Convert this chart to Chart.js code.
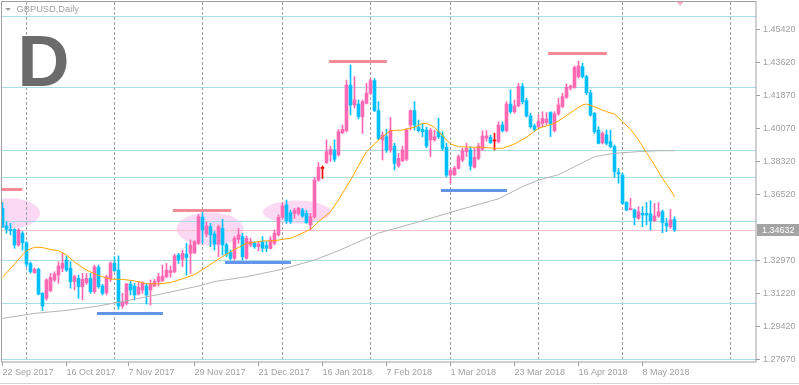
<!DOCTYPE html>
<html>
<head>
<meta charset="utf-8">
<title>GBPUSD,Daily</title>
<script src="https://cdn.jsdelivr.net/npm/chart.js@4.4.1/dist/chart.umd.min.js"></script>
<style>
  html, body { margin: 0; padding: 0; background: #fff; }
  #wrap { width: 799px; height: 385px; }
</style>
</head>
<body>
<div id="wrap"><canvas id="chart" width="799" height="385"></canvas></div>
<script>
// one bar per trading day, bar 0 = 22 Sep 2017
const opens = [
  1.3579,1.3484,1.3466,1.3466,1.3382,1.3445,1.3394,1.3283,1.3233,1.3251,
  1.3122,1.3095,1.3136,1.3194,1.3220,1.3256,1.3301,1.3256,1.3185,1.3202,
  1.3158,1.3179,1.3202,1.3131,1.3262,1.3161,1.3125,1.3202,1.3283,1.3247,
  1.3054,1.3068,1.3172,1.3161,1.3118,1.3140,1.3161,1.3140,1.3161,1.3185,
  1.3190,1.3211,1.3233,1.3238,1.3328,1.3305,1.3332,1.3337,1.3340,1.3391,
  1.3531,1.3441,1.3480,1.3441,1.3387,1.3471,1.3382,1.3341,1.3310,1.3412,
  1.3427,1.3310,1.3382,1.3391,1.3373,1.3400,1.3378,1.3364,1.3391,1.3436,
  1.3531,1.3597,1.3556,1.3552,1.3552,1.3570,1.3552,1.3489,1.3534,1.3731,
  1.3794,1.3825,1.3868,1.3893,1.3866,1.3986,1.3997,1.4242,1.4135,1.4140,
  1.4072,1.4144,1.4198,1.4266,1.4104,1.3947,1.3964,1.3893,1.3914,1.3807,
  1.3835,1.3843,1.4027,1.4104,1.4015,1.4004,1.4000,1.3947,1.3947,1.3991,
  1.3968,1.3907,1.3758,1.3760,1.3794,1.3839,1.3884,1.3893,1.3800,1.3848,
  1.3896,1.3956,1.3961,1.3941,1.3938,1.4027,1.3997,1.4140,1.4099,1.4130,
  1.4234,1.4158,1.4076,1.4022,1.4018,1.4036,1.4040,1.4094,1.3997,1.4087,
  1.4126,1.4176,1.4225,1.4230,1.4287,1.4341,1.4287,1.4201,1.4090,1.4000,
  1.3932,1.3974,1.3938,1.3911,1.3771,1.3758,1.3610,1.3572,1.3570,1.3525,
  1.3552,1.3552,1.3549,1.3513,1.3538,1.3561,1.3498,1.3480,1.3520
];
const highs = [
  1.3610,1.3507,1.3498,1.3470,1.3470,1.3454,1.3400,1.3290,1.3258,1.3258,
  1.3126,1.3200,1.3229,1.3238,1.3292,1.3341,1.3323,1.3292,1.3220,1.3220,
  1.3229,1.3229,1.3229,1.3274,1.3274,1.3170,1.3220,1.3292,1.3319,1.3323,
  1.3122,1.3176,1.3185,1.3176,1.3185,1.3185,1.3176,1.3194,1.3197,1.3229,
  1.3274,1.3283,1.3269,1.3333,1.3337,1.3355,1.3391,1.3409,1.3405,1.3545,
  1.3561,1.3507,1.3498,1.3454,1.3489,1.3520,1.3391,1.3355,1.3427,1.3471,
  1.3445,1.3430,1.3418,1.3400,1.3400,1.3427,1.3400,1.3427,1.3463,1.3543,
  1.3606,1.3624,1.3570,1.3579,1.3584,1.3579,1.3567,1.3552,1.3745,1.3825,
  1.3807,1.3947,1.3914,1.3947,1.4004,1.4027,1.4269,1.4350,1.4287,1.4162,
  1.4162,1.4251,1.4278,1.4278,1.4153,1.3991,1.4005,1.4068,1.3929,1.3875,
  1.3914,1.4009,1.4108,1.4153,1.4054,1.4036,1.4015,1.4009,1.4000,1.4063,
  1.3991,1.3930,1.3794,1.3805,1.3866,1.3902,1.3929,1.3911,1.3902,1.3929,
  1.3997,1.3997,1.3974,1.3983,1.4045,1.4045,1.4153,1.4216,1.4162,1.4251,
  1.4251,1.4171,1.4090,1.4033,1.4081,1.4099,1.4094,1.4099,1.4099,1.4171,
  1.4198,1.4248,1.4242,1.4345,1.4372,1.4360,1.4295,1.4215,1.4095,1.4018,
  1.3991,1.4000,1.4000,1.3920,1.3794,1.3767,1.3615,1.3633,1.3575,1.3588,
  1.3588,1.3610,1.3620,1.3606,1.3610,1.3570,1.3525,1.3574,1.3534
];
const lows = [
  1.3475,1.3445,1.3436,1.3364,1.3375,1.3355,1.3265,1.3230,1.3230,1.3113,
  1.3029,1.3085,1.3130,1.3185,1.3176,1.3238,1.3240,1.3149,1.3140,1.3095,
  1.3086,1.3170,1.3122,1.3122,1.3149,1.3113,1.3113,1.3185,1.3240,1.3036,
  1.3041,1.3059,1.3113,1.3086,1.3113,1.3122,1.3064,1.3059,1.3158,1.3161,
  1.3185,1.3205,1.3208,1.3232,1.3283,1.3265,1.3220,1.3229,1.3335,1.3385,
  1.3391,1.3427,1.3373,1.3355,1.3319,1.3328,1.3319,1.3301,1.3301,1.3391,
  1.3301,1.3305,1.3373,1.3364,1.3351,1.3346,1.3346,1.3359,1.3382,1.3430,
  1.3525,1.3498,1.3498,1.3525,1.3543,1.3531,1.3498,1.3463,1.3525,1.3725,
  1.3740,1.3820,1.3832,1.3830,1.3860,1.3980,1.3990,1.4081,1.4117,1.4060,
  1.3982,1.4140,1.4190,1.4100,1.3947,1.3839,1.3880,1.3880,1.3785,1.3800,
  1.3830,1.3835,1.4000,1.4000,1.3990,1.3964,1.3905,1.3857,1.3940,1.3955,
  1.3890,1.3749,1.3714,1.3755,1.3790,1.3830,1.3857,1.3785,1.3795,1.3840,
  1.3890,1.3940,1.3928,1.3893,1.3930,1.3990,1.3990,1.4090,1.4090,1.4125,
  1.4140,1.4070,1.4010,1.3995,1.4010,1.4018,1.4030,1.3965,1.3990,1.4080,
  1.4120,1.4170,1.4215,1.4225,1.4280,1.4280,1.4190,1.4075,1.3982,1.3925,
  1.3925,1.3920,1.3905,1.3746,1.3714,1.3600,1.3565,1.3570,1.3489,1.3520,
  1.3480,1.3489,1.3463,1.3507,1.3530,1.3448,1.3454,1.3471,1.3454
];
const closes = [
  1.3480,1.3466,1.3459,1.3382,1.3462,1.3394,1.3278,1.3238,1.3251,1.3118,
  1.3054,1.3194,1.3208,1.3226,1.3269,1.3283,1.3247,1.3185,1.3211,1.3158,
  1.3197,1.3202,1.3131,1.3265,1.3158,1.3122,1.3211,1.3283,1.3244,1.3054,
  1.3077,1.3172,1.3140,1.3113,1.3154,1.3176,1.3113,1.3172,1.3185,1.3211,
  1.3215,1.3247,1.3244,1.3323,1.3301,1.3337,1.3315,1.3382,1.3400,1.3534,
  1.3463,1.3484,1.3436,1.3387,1.3480,1.3382,1.3333,1.3310,1.3418,1.3436,
  1.3319,1.3418,1.3400,1.3373,1.3387,1.3364,1.3364,1.3409,1.3445,1.3531,
  1.3592,1.3513,1.3507,1.3567,1.3579,1.3538,1.3502,1.3534,1.3731,1.3800,
  1.3794,1.3884,1.3896,1.3843,1.3991,1.4004,1.4242,1.4135,1.4162,1.4072,
  1.4153,1.4198,1.4266,1.4104,1.3956,1.3973,1.3893,1.4000,1.3821,1.3848,
  1.3893,1.4000,1.4104,1.4027,1.3997,1.3991,1.3914,1.4000,1.3964,1.3964,
  1.3902,1.3758,1.3782,1.3795,1.3857,1.3889,1.3902,1.3807,1.3853,1.3914,
  1.3968,1.3968,1.3932,1.3941,1.4027,1.3997,1.4140,1.4099,1.4130,1.4234,
  1.4153,1.4076,1.4018,1.4004,1.4045,1.4063,1.4058,1.4036,1.4087,1.4135,
  1.4180,1.4230,1.4237,1.4337,1.4345,1.4287,1.4201,1.4081,1.3991,1.3929,
  1.3982,1.3929,1.3911,1.3776,1.3764,1.3606,1.3570,1.3579,1.3531,1.3561,
  1.3543,1.3543,1.3513,1.3538,1.3561,1.3502,1.3484,1.3516,1.3463
];
// bars drawn as red crosses
const markerBars = [80, 123];

// moving averages: [bar index, price]
const fastMa = [
  [0,1.3208],[3,1.3280],[6,1.3351],[8,1.3370],[10,1.3368],[12,1.3358],[14,1.3351],
  [16,1.3328],[18,1.3290],[21,1.3247],[24,1.3218],[27,1.3198],[30,1.3197],[33,1.3189],
  [36,1.3174],[39,1.3172],[42,1.3180],[45,1.3200],[48,1.3222],[50,1.3250],[53,1.3292],
  [57,1.3346],[61,1.3391],[65,1.3403],[68,1.3405],[70,1.3412],[72,1.3418],[74,1.3436],
  [77,1.3466],[79,1.3507],[82,1.3561],[84,1.3624],[87,1.3731],[91,1.3884],[94,1.3946],
  [97,1.3997],[100,1.4000],[103,1.4015],[105,1.4036],[106,1.4036],[108,1.4015],
  [110,1.3970],[112,1.3925],[114,1.3911],[118,1.3907],[120,1.3907],[123,1.3902],
  [125,1.3902],[128,1.3925],[131,1.3961],[134,1.4009],[138,1.4036],[140,1.4063],
  [143,1.4108],[145,1.4135],[146,1.4140],[148,1.4125],[151,1.4099],[153,1.4086],
  [155,1.4045],[157,1.4004],[159,1.3947],[161,1.3878],[163,1.3812],[165,1.3740],
  [167,1.3678],[168,1.3642]
];
const slowMa = [
  [0,1.2987],[8,1.3014],[16,1.3030],[24,1.3054],[33,1.3090],[40,1.3120],[49,1.3161],
  [53,1.3185],[61,1.3211],[69,1.3247],[78,1.3301],[84,1.3351],[94,1.3446],[104,1.3506],
  [114,1.3570],[124,1.3630],[130,1.3696],[134,1.3731],[139,1.3760],[143,1.3803],
  [148,1.3857],[153,1.3875],[159,1.3884],[164,1.3889],[168,1.3889]
];

const dateTickIdx = [0, 16, 31.5, 48, 64, 80, 96, 112, 128, 144, 160];
const dateLabels = ['22 Sep 2017', '16 Oct 2017', '7 Nov 2017', '29 Nov 2017', '21 Dec 2017',
  '16 Jan 2018', '7 Feb 2018', '1 Mar 2018', '23 Mar 2018', '16 Apr 2018', '8 May 2018'];
const monthSeparators = [6, 28, 50, 70, 92, 112, 134, 155, 182];
const priceTicks = [1.45420, 1.43620, 1.41870, 1.40070, 1.38320, 1.36520,
  1.32970, 1.31220, 1.29420, 1.27670];
const lastPrice = 1.34632;

// drawn objects
const levelLines = [1.4614, 1.4230, 1.3891, 1.3746, 1.3511, 1.3300, 1.3068, 1.2770];
const resistanceMarks = [[-1, 5, 1.3685], [42.6, 57.1, 1.3572], [81.6, 96.1, 1.4373], [136.4, 151.1, 1.4415]];
const supportMarks = [[23.6, 40.1, 1.3018], [55.6, 72.1, 1.3289], [109.6, 126.1, 1.3679]];
// [center bar, center price, radius in bars, radius in price]
const zones = [[1.9, 1.3552, 7.5, 0.0081], [51.9, 1.3468, 8.4, 0.0089], [73.6, 1.3559, 8.5, 0.0062]];
const arrowMark = [169.4, 1.4689];

const pink = '#ff69b4';
const blue = '#00bfff';
const gray = '#a0a0a0';

function candleColor(i) {
  if (markerBars.includes(i)) return '#ff0000';
  return closes[i] >= opens[i] ? pink : blue;
}

const bars = opens.map((o, i) => i);
const colors = bars.map(candleColor);

const overlay = {
  id: 'overlay',
  beforeDatasetsDraw(chart) {
    const { ctx, chartArea: a, scales: { x, y } } = chart;
    ctx.save();
    ctx.beginPath();
    ctx.rect(a.left, a.top, a.right - a.left, a.bottom - a.top);
    ctx.clip();

    ctx.fillStyle = '#fbd9f4';
    zones.forEach(([i, p, ri, rp]) => {
      const cx = x.getPixelForValue(i), cy = y.getPixelForValue(p);
      const rx = x.getPixelForValue(i + ri) - cx;
      const ry = y.getPixelForValue(p - rp) - cy;
      ctx.beginPath();
      ctx.ellipse(cx, cy, rx, ry, 0, 0, Math.PI * 2);
      ctx.fill();
    });

    ctx.lineWidth = 1;
    ctx.strokeStyle = gray;
    ctx.setLineDash([3, 2]);
    monthSeparators.forEach(i => {
      const px = Math.floor(x.getPixelForValue(i)) + 0.5;
      ctx.beginPath();
      ctx.moveTo(px, a.top);
      ctx.lineTo(px, a.bottom);
      ctx.stroke();
    });
    ctx.setLineDash([]);

    ctx.strokeStyle = '#a8dde2';
    levelLines.forEach(p => {
      const py = Math.round(y.getPixelForValue(p)) + 0.5;
      ctx.beginPath();
      ctx.moveTo(a.left, py);
      ctx.lineTo(a.right, py);
      ctx.stroke();
    });

    ctx.strokeStyle = '#ffc0cb';
    const by = Math.round(y.getPixelForValue(lastPrice)) + 0.5;
    ctx.beginPath();
    ctx.moveTo(a.left, by);
    ctx.lineTo(a.right, by);
    ctx.stroke();
    ctx.restore();
  },
  afterDatasetsDraw(chart) {
    const { ctx, chartArea: a, scales: { x, y } } = chart;
    ctx.save();
    ctx.beginPath();
    ctx.rect(a.left, a.top, a.right - a.left, a.bottom - a.top);
    ctx.clip();
    ctx.lineWidth = 3;
    const seg = (list, color) => {
      ctx.strokeStyle = color;
      list.forEach(([i0, i1, p]) => {
        const py = Math.round(y.getPixelForValue(p)) + 0.5;
        ctx.beginPath();
        ctx.moveTo(x.getPixelForValue(i0), py);
        ctx.lineTo(x.getPixelForValue(i1), py);
        ctx.stroke();
      });
    };
    seg(resistanceMarks, '#f48a96');
    seg(supportMarks, '#6495ed');

    // arrow object at the top edge
    const ax = x.getPixelForValue(arrowMark[0]), ay = y.getPixelForValue(arrowMark[1]);
    ctx.fillStyle = '#f9b0c4';
    ctx.beginPath();
    ctx.moveTo(ax - 5, ay - 2);
    ctx.lineTo(ax + 5, ay - 2);
    ctx.lineTo(ax, ay + 4);
    ctx.closePath();
    ctx.fill();
    ctx.restore();
  },
  afterDraw(chart) {
    const { ctx, chartArea: a, scales: { y } } = chart;
    ctx.save();
    // frame
    ctx.strokeStyle = gray;
    ctx.lineWidth = 1;
    ctx.strokeRect(1.5, 1.5, a.right - 1.5, a.bottom - 1.5);
    ctx.strokeStyle = '#d4d4d4';
    ctx.beginPath();
    ctx.moveTo(0, 383.5);
    ctx.lineTo(799, 383.5);
    ctx.stroke();

    // title
    ctx.fillStyle = gray;
    ctx.beginPath();
    ctx.moveTo(5, 8);
    ctx.lineTo(11, 8);
    ctx.lineTo(8, 11);
    ctx.closePath();
    ctx.fill();
    ctx.font = '9.3px "Liberation Sans"';
    ctx.textBaseline = 'middle';
    ctx.textAlign = 'left';
    ctx.fillText('GBPUSD,Daily', 16.5, 9.5);

    ctx.fillStyle = '#6b6b6b';
    ctx.font = 'bold 72px "Liberation Sans"';
    ctx.textBaseline = 'alphabetic';
    ctx.fillText('D', 17.5, 86);

    // current price label
    const py = Math.round(y.getPixelForValue(lastPrice));
    ctx.fillStyle = '#a4a4a4';
    ctx.fillRect(a.right + 1, py - 6, 42, 12);
    ctx.fillStyle = '#ffffff';
    ctx.font = '9px "Liberation Sans"';
    ctx.textBaseline = 'middle';
    ctx.fillText(lastPrice.toFixed(5), a.right + 6, py + 0.5);
    ctx.restore();
  }
};

Chart.defaults.font.family = '"Liberation Sans", Arial, sans-serif';
Chart.defaults.font.size = 9;
Chart.defaults.color = gray;

new Chart(document.getElementById('chart'), {
  type: 'bar',
  data: {
    datasets: [
      {
        type: 'line',
        label: 'MA fast',
        data: fastMa.map(([i, p]) => ({ x: i, y: p })),
        borderColor: '#ffa500',
        borderWidth: 1,
        pointRadius: 0,
        tension: 0,
        order: 0
      },
      {
        type: 'line',
        label: 'MA slow',
        data: slowMa.map(([i, p]) => ({ x: i, y: p })),
        borderColor: '#b4b4b4',
        borderWidth: 1,
        pointRadius: 0,
        tension: 0,
        order: 1
      },
      {
        label: 'Body',
        data: bars.map(i => ({ x: i, y: [opens[i], closes[i]] })),
        backgroundColor: colors,
        grouped: false,
        categoryPercentage: 1,
        barPercentage: 1,
        maxBarThickness: 3,
        minBarLength: 1,
        borderWidth: 0,
        order: 2
      },
      {
        label: 'Wick',
        data: bars.map(i => ({ x: i, y: [lows[i], highs[i]] })),
        backgroundColor: colors,
        grouped: false,
        categoryPercentage: 1,
        barPercentage: 1,
        maxBarThickness: 1,
        borderWidth: 0,
        order: 3
      }
    ]
  },
  options: {
    responsive: false,
    animation: false,
    devicePixelRatio: 1,
    layout: { padding: { left: 2, top: 2, right: 0, bottom: 0 } },
    plugins: { legend: { display: false }, tooltip: { enabled: false } },
    scales: {
      x: {
        type: 'linear',
        min: -0.125,
        max: 188.375,
        offset: false,
        grid: { display: true, drawOnChartArea: false, drawTicks: true, tickLength: 4, color: gray, offset: false },
        border: { display: false },
        afterBuildTicks: scale => { scale.ticks = dateTickIdx.map(v => ({ value: v })); },
        afterFit: scale => {
          scale.height = 23;
          scale.paddingLeft = 0;
          scale.paddingRight = 0;
        },
        ticks: {
          autoSkip: false,
          maxRotation: 0,
          align: 'start',
          padding: 1,
          color: gray,
          callback: v => dateLabels[dateTickIdx.indexOf(v)]
        }
      },
      y: {
        position: 'right',
        min: 1.27525,
        max: 1.46888,
        grid: { display: true, drawOnChartArea: false, drawTicks: true, tickLength: 4, color: gray },
        border: { display: false },
        afterBuildTicks: scale => { scale.ticks = priceTicks.map(v => ({ value: v })); },
        afterFit: scale => {
          scale.width = 43;
          scale.paddingTop = 0;
          scale.paddingBottom = 0;
        },
        ticks: {
          padding: 3,
          color: gray,
          callback: v => v.toFixed(5)
        }
      }
    }
  },
  plugins: [overlay]
});
</script>
</body>
</html>
